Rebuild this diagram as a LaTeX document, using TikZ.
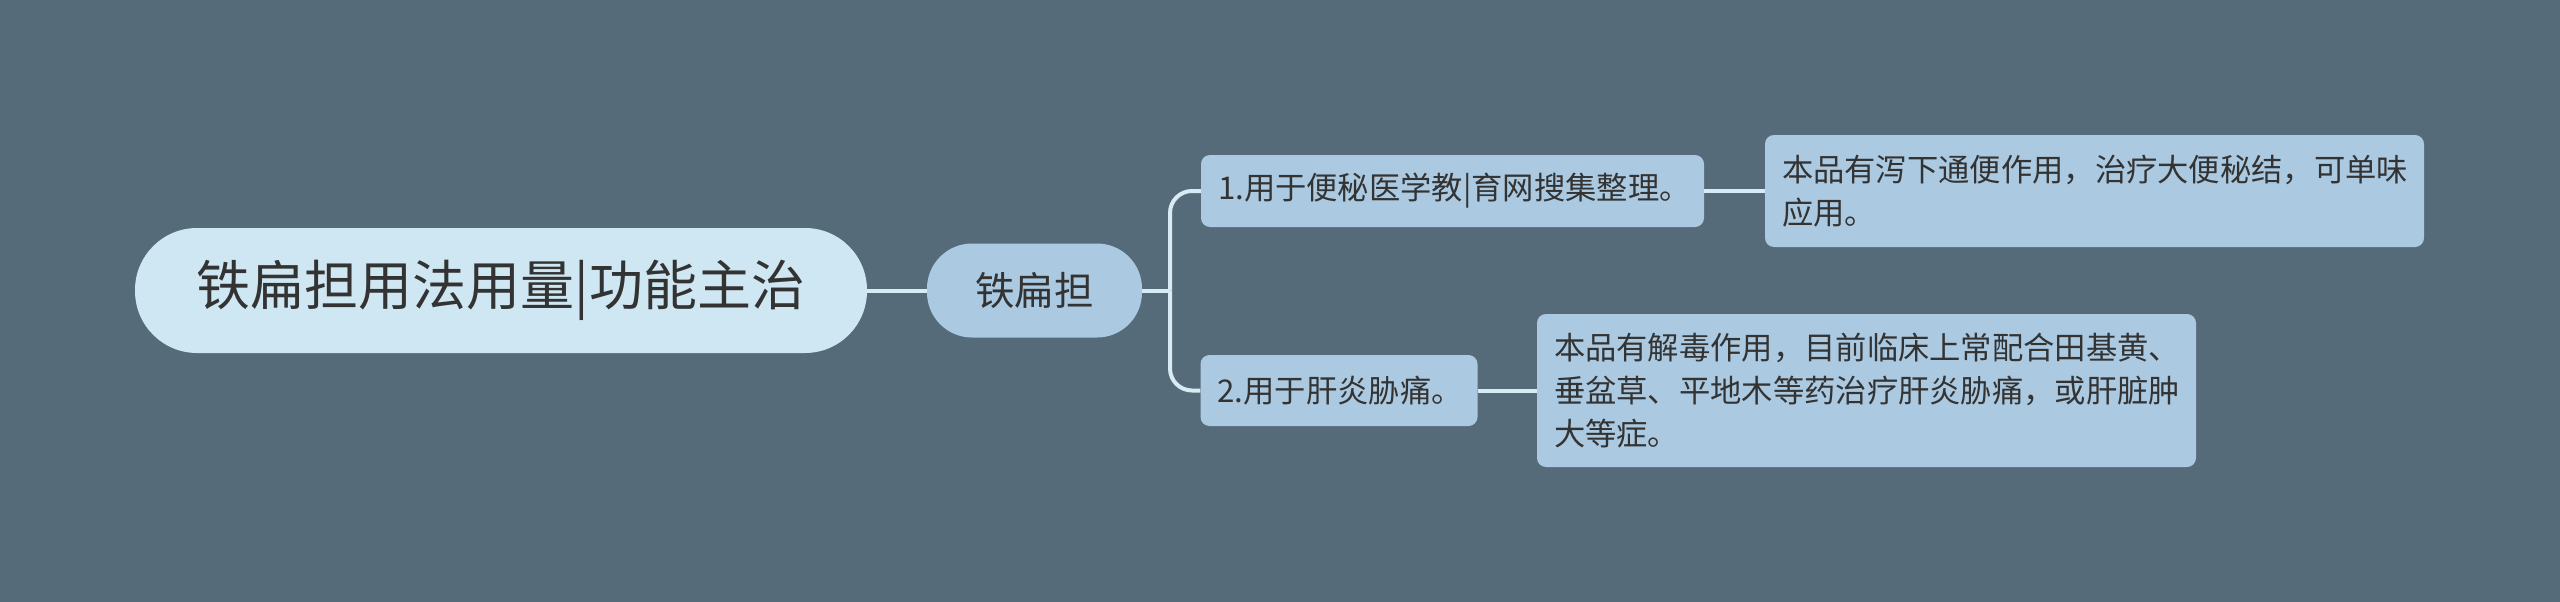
\documentclass[tikz,border=0pt]{standalone}
\usepackage{fontspec}
\setmainfont{Noto Sans CJK SC}
\begin{document}
\begin{tikzpicture}[x=1pt,y=-1pt,
  every node/.style={font=\fontsize{31.3}{43}\selectfont, text=black!80},
  rootbox/.style={fill=rootc, rounded corners=62pt, minimum width=732pt, minimum height=125pt, inner sep=0pt, font=\fontsize{54}{60}\selectfont},
  subbox/.style={fill=leafc, rounded corners=45pt, minimum width=215pt, minimum height=94pt, inner sep=0pt, font=\fontsize{39.5}{46}\selectfont},
  leafbox/.style={fill=leafc, rounded corners=9pt, inner xsep=17pt, inner ysep=0pt, align=left},
  conn/.style={draw=linec, line width=4pt}
]
\definecolor{bgc}{HTML}{566B7A}
\definecolor{rootc}{HTML}{CFE7F3}
\definecolor{leafc}{HTML}{ABCAE1}
\definecolor{linec}{HTML}{D8EBF5}
\fill[bgc] (0,0) rectangle (2560,602);
\useasboundingbox (0,0) rectangle (2560,602);

\node[rootbox] (root) at (501,290.5) {铁扁担用法用量|功能主治};
\node[subbox] (sub) at (1034.5,290.5) {铁扁担};
\node[leafbox, minimum width=503pt, minimum height=72pt, text width=469pt] (n1) at (1452.5,191) {1.用于便秘医学教|育网搜集整理。};
\node[leafbox, minimum width=277pt, minimum height=71pt, text width=243pt] (n2) at (1339,390.5) {2.用于肝炎胁痛。};
\node[leafbox, minimum width=659pt, minimum height=112pt, text width=625pt] (d1) at (2094.5,191) {本品有泻下通便作用，治疗大便秘结，可单味\\应用。};
\node[leafbox, minimum width=659pt, minimum height=153pt, text width=625pt] (d2) at (1866.5,390.5) {本品有解毒作用，目前临床上常配合田基黄、\\垂盆草、平地木等药治疗肝炎胁痛，或肝脏肿\\大等症。};

\coordinate (j) at (1170,290.5);
\draw[conn] (root.east) -- (sub.west);
\draw[conn] (sub.east) -- (j);
\draw[conn, rounded corners=22pt] (j) |- (n1.west);
\draw[conn, rounded corners=22pt] (j) |- (n2.west);
\draw[conn] (n1.east) -- (d1.west);
\draw[conn] (n2.east) -- (d2.west);
\end{tikzpicture}
\end{document}
